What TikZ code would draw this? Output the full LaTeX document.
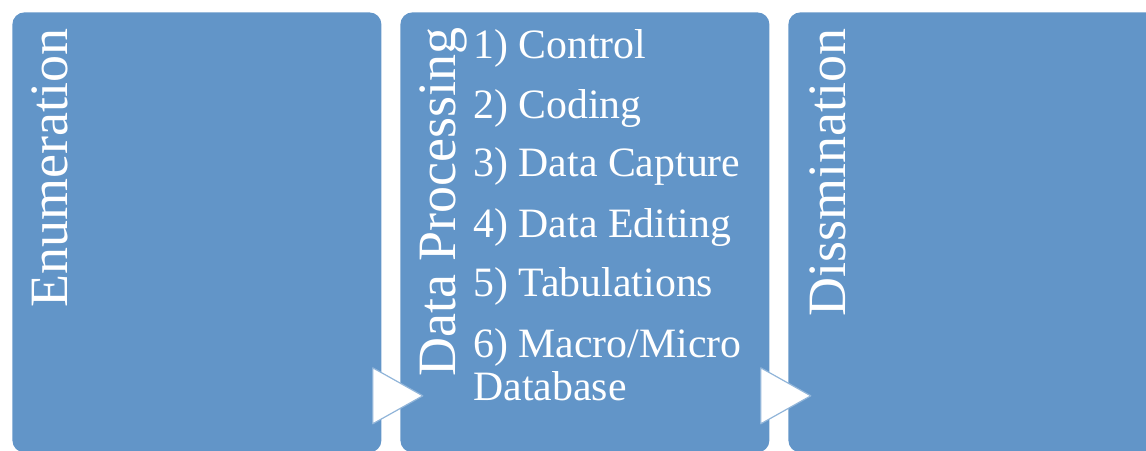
\documentclass[tikz,border=0pt]{standalone}
\usepackage{fontspec}
\setmainfont{Liberation Serif}
\definecolor{Miazul}{RGB}{98,149,200}
\usetikzlibrary{positioning, calc}

\begin{document}
\begin{tikzpicture}[x=0.5pt, y=-0.5pt,
    caja/.style={
        rectangle, rounded corners=6pt,
        fill=Miazul, draw=none,
        minimum width=184.5pt, minimum height=220pt,
        inner sep=0pt, anchor=north west},
    titulo/.style={font=\fontsize{27}{31}\selectfont, text=white,
        rotate=90, inner sep=0pt, anchor=base east},
    paso/.style={font=\fontsize{20.9}{24}\selectfont, text=white,
        inner sep=0pt, anchor=base west},
    punta/.style={fill=white, draw=Miazul!70, line width=0.6pt, line join=round}]
  \path[use as bounding box, clip] (0,0) rectangle (1146,450);
  % Cajas principales
  \node[caja] (enum) at (12,12)  {};
  \node[caja] (proc) at (400,12) {};
  \node[caja] (diss) at (788,12) {};
  % Titulos verticales
  \node[titulo] (tenum) at (67,28)  {Enumeration};
  \node[titulo] (tproc) at (455,27) {Data Processing};
  \node[titulo] (tdiss) at (845,28) {Dissmination};
  % Pasos del procesamiento
  \node[paso] (p1)  at (473,58)  {1) Control};
  \node[paso] (p2)  at (473,118) {2) Coding};
  \node[paso] (p3)  at (473,176) {3) Data Capture};
  \node[paso] (p4)  at (473,237) {4) Data Editing};
  \node[paso] (p5)  at (473,296) {5) Tabulations};
  \node[paso] (p6)  at (473,357) {6) Macro/Micro};
  \node[paso] (p6b) at (473,400) {Database};
  % Flechas
  \draw[punta] ([shift={(-4.5pt,42.5pt)}]enum.south east)
    -- ([shift={(20.5pt,28.5pt)}]enum.south east)
    -- ([shift={(-4.5pt,14.5pt)}]enum.south east) -- cycle;
  \draw[punta] ([shift={(-4.5pt,42.5pt)}]proc.south east)
    -- ([shift={(20.5pt,28.5pt)}]proc.south east)
    -- ([shift={(-4.5pt,14.5pt)}]proc.south east) -- cycle;
\end{tikzpicture}
\end{document}
